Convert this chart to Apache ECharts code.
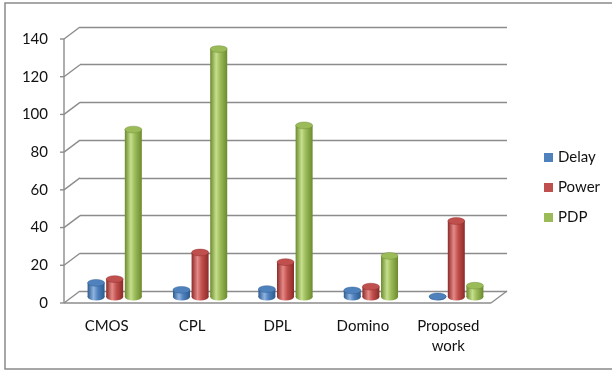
<!DOCTYPE html>
<html lang="en">
<head>
  <meta charset="UTF-8">
  <title>Delay / Power / PDP</title>
  <script src="https://cdn.jsdelivr.net/npm/echarts@6/dist/echarts.min.js"></script>
  <style>
    * { margin: 0; padding: 0; box-sizing: border-box; }
    body { background: #fff; }
    #chart { width: 612px; height: 372px; }
  </style>
</head>
<body>
  <div id="chart"></div>
  <script>
    // data
    const categories = ['CMOS', 'CPL', 'DPL', 'Domino', 'Proposed\nwork'];
    const delay = [7.5, 3.8, 4.2, 3.5, 0.3];
    const power = [9.5, 23.6, 18.5, 5.5, 40.3];
    const pdp = [88.8, 131.5, 91, 21.8, 6];
    const yTicks = [0, 20, 40, 60, 80, 100, 120, 140];

    const seriesNames = ['Delay', 'Power', 'PDP'];
    const seriesData = [delay, power, pdp];
    const colors = ['#4F81BD', '#C0504D', '#9BBB59'];
    const darks = ['#2c5a8f', '#8c2a28', '#6b8a2e'];
    const lights = ['#8fb3e0', '#e58a87', '#c6df8d'];

    // fake 3D depth: front plane is shifted left/down from back wall
    const DX = -16, DY = 12;
    const GRID = { left: 80, right: 105, top: 27, bottom: 81 };
    const W = 612, H = 372;
    const FONT = 'Lato, "Open Sans", sans-serif';

    const chart = echarts.init(document.getElementById('chart'));

    function cylinder(i) {
      return function (params, api) {
        const cat = api.value(0);
        const val = api.value(1);
        const bandW = api.size([1, 0])[0];
        const base = api.coord([cat, 0]);
        const top = api.coord([cat, val]);
        const cx = base[0] + DX / 2 + (i - 1) * bandW * 0.218;
        const by = base[1] + DY / 2;
        const ty = top[1] + DY / 2;
        const w = 17, r = w / 2, sy = 0.4;
        const grad = new echarts.graphic.LinearGradient(0, 0, 1, 0, [
          { offset: 0, color: darks[i] },
          { offset: 0.35, color: lights[i] },
          { offset: 0.6, color: colors[i] },
          { offset: 1, color: darks[i] }
        ]);
        return {
          type: 'group',
          children: [
            { type: 'circle', x: cx, y: by, scaleY: sy, shape: { cx: 0, cy: 0, r: r }, style: { fill: grad } },
            { type: 'rect', shape: { x: cx - r, y: ty, width: w, height: Math.max(by - ty, 0) }, style: { fill: grad } },
            { type: 'circle', x: cx, y: ty, scaleY: sy, shape: { cx: 0, cy: 0, r: r },
              style: { fill: colors[i], stroke: darks[i], lineWidth: 0.6 } }
          ]
        };
      };
    }

    const series = seriesNames.map((name, i) => ({
      name,
      type: 'custom',
      renderItem: cylinder(i),
      encode: { x: 0, y: 1 },
      itemStyle: { color: colors[i] },
      data: seriesData[i].map((v, k) => [k, v]),
      z: 3
    }));

    chart.setOption({
      animation: false,
      textStyle: { fontFamily: FONT },
      grid: GRID,
      legend: {
        orient: 'vertical',
        left: 539,
        top: 145,
        itemWidth: 9,
        itemHeight: 9,
        itemGap: 15,
        icon: 'rect',
        data: seriesNames,
        textStyle: { fontSize: 15, color: '#111', fontFamily: FONT }
      },
      xAxis: {
        type: 'category',
        data: categories,
        axisLine: { show: false },
        axisTick: { show: false },
        axisLabel: {
          fontSize: 15,
          color: '#111',
          lineHeight: 20,
          margin: 25,
          padding: [0, -DX * 2, 0, 0],
          interval: 0
        }
      },
      yAxis: {
        type: 'value',
        min: 0,
        max: 140,
        interval: 20,
        axisLine: { show: false },
        axisTick: { show: false },
        splitLine: { lineStyle: { color: '#8c8c8c', width: 1.4 } },
        axisLabel: {
          fontSize: 15,
          color: '#111',
          margin: 32,
          verticalAlign: 'top',
          lineHeight: DY * 2
        }
      },
      series
    });

    // side wall, front axis and floor edges, placed through the axis scale
    const xBack0 = GRID.left, xBack1 = W - GRID.right;
    const lineStyle = { stroke: '#8c8c8c', lineWidth: 1.4 };
    const deco = [];
    yTicks.forEach(v => {
      const y = chart.convertToPixel({ yAxisIndex: 0 }, v);
      deco.push({ type: 'line', shape: { x1: xBack0 + DX, y1: y + DY, x2: xBack0, y2: y }, style: lineStyle, silent: true });
      deco.push({ type: 'line', shape: { x1: xBack0 + DX - 4, y1: y + DY, x2: xBack0 + DX, y2: y + DY }, style: lineStyle, silent: true });
    });
    const yTop = chart.convertToPixel({ yAxisIndex: 0 }, yTicks[yTicks.length - 1]);
    const yZero = chart.convertToPixel({ yAxisIndex: 0 }, 0);
    deco.push({ type: 'line', shape: { x1: xBack0 + DX, y1: yTop + DY, x2: xBack0 + DX, y2: yZero + DY }, style: lineStyle, silent: true });
    deco.push({ type: 'line', shape: { x1: xBack0 + DX, y1: yZero + DY, x2: xBack1 + DX, y2: yZero + DY }, style: lineStyle, silent: true });
    deco.push({ type: 'line', shape: { x1: xBack1, y1: yZero, x2: xBack1 + DX, y2: yZero + DY }, style: lineStyle, silent: true });
    // chart area border (clipped on the right like the original)
    deco.push({ type: 'rect', shape: { x: 5, y: 3, width: 640, height: 366 }, style: { fill: null, stroke: '#8a8a8a', lineWidth: 1.5 }, silent: true, z: 10 });

    chart.setOption({ graphic: deco });
  </script>
</body>
</html>
